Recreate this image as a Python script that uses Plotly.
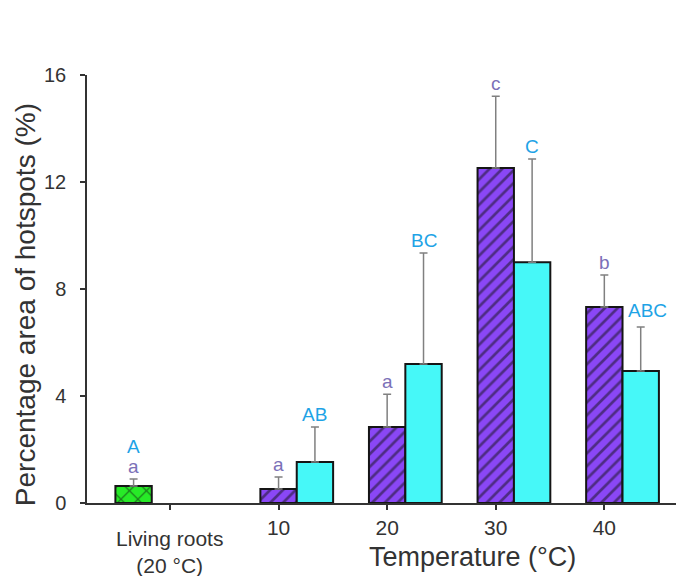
import numpy as np
import plotly.graph_objects as go

# ---------------- data ----------------
categories = ["Living roots<br>(20 °C)", "10", "20", "30", "40"]

living_value = [0.64]
living_err = [0.26]
living_letters_lower = ["a"]
living_letters_upper = ["A"]

excised_values = [0.52, 2.84, 12.52, 7.33]      # purple hatched bars
excised_err = [0.45, 1.23, 2.69, 1.19]
excised_letters = ["a", "a", "c", "b"]

second_values = [1.53, 5.20, 9.00, 4.93]        # cyan bars
second_err = [1.31, 4.15, 3.86, 1.65]
second_letters = ["AB", "BC", "C", "ABC"]

y_ticks = [0, 4, 8, 12, 16]

# ---------------- styles ----------------
W = 0.335
PURPLE = "#8a47f6"
CYAN = "#46f8f8"
GREEN = "#27ea27"
LOW_COL = "#7b70b8"
UP_COL = "#1ea3e6"
TXT = "#333333"
FONT = "Liberation Sans, Arial, sans-serif"

idx = np.arange(len(categories))
x_green = idx[:1] - W
x_purple = idx[1:]
x_cyan = idx[1:] + W

err_style = dict(type="data", symmetric=False, color="#808080", thickness=1.5, width=4)
line_style = dict(color="#151515", width=2)

fig = go.Figure()
fig.add_trace(go.Bar(
    x=x_green, y=living_value, width=W,
    marker=dict(color=GREEN, line=line_style,
                pattern=dict(shape="x", fgcolor="#111111", bgcolor=GREEN, size=12, solidity=0.2)),
    error_y=dict(array=living_err, arrayminus=[0] * len(living_err), **err_style),
    showlegend=False,
))
fig.add_trace(go.Bar(
    x=x_purple, y=excised_values, width=W,
    marker=dict(color=PURPLE, line=line_style,
                pattern=dict(shape="/", fgcolor="#111111", bgcolor=PURPLE, size=9, solidity=0.3)),
    error_y=dict(array=excised_err, arrayminus=[0] * len(excised_err), **err_style),
    showlegend=False,
))
fig.add_trace(go.Bar(
    x=x_cyan, y=second_values, width=W,
    marker=dict(color=CYAN, line=line_style),
    error_y=dict(array=second_err, arrayminus=[0] * len(second_err), **err_style),
    showlegend=False,
))

ann = []
LFS = 19
for xv, v, e, t in zip(x_green, living_value, living_err, living_letters_lower):
    ann.append(dict(x=xv, y=v + e, text=t, showarrow=False, yanchor="bottom",
                    font=dict(size=LFS, color=LOW_COL, family=FONT)))
for xv, v, e, t in zip(x_green, living_value, living_err, living_letters_upper):
    ann.append(dict(x=xv, y=v + e, text=t, showarrow=False, yanchor="bottom", yshift=20,
                    font=dict(size=LFS, color=UP_COL, family=FONT)))
for xv, v, e, t in zip(x_purple, excised_values, excised_err, excised_letters):
    ann.append(dict(x=xv, y=v + e, text=t, showarrow=False, yanchor="bottom",
                    font=dict(size=LFS, color=LOW_COL, family=FONT)))
for xv, v, e, t in zip(x_cyan, second_values, second_err, second_letters):
    ann.append(dict(x=xv, y=v + e, text=t, showarrow=False, yanchor="bottom",
                    xshift=7 if t == "ABC" else 0, yshift=4 if t == "ABC" else 0,
                    font=dict(size=LFS, color=UP_COL, family=FONT)))

# first category label (two lines, sits a little lower than the numeric ticks)
tick_text = [""] + categories[1:]
ann.append(dict(x=idx[0], y=0, xref="x", yref="y", text=categories[0], showarrow=False,
                xanchor="center", yanchor="top", yshift=-22,
                font=dict(size=21, color=TXT, family=FONT)))

# axis titles
ann.append(dict(xref="paper", yref="paper", x=0.655, y=-0.126, text="Temperature (°C)",
                showarrow=False, xanchor="center", yanchor="middle",
                font=dict(size=27, color=TXT, family=FONT)))
ann.append(dict(xref="paper", yref="paper", x=-0.105, y=0.4626, text="Percentage area of hotspots (%)",
                showarrow=False, xanchor="center", yanchor="middle", textangle=-90,
                font=dict(size=28, color=TXT, family=FONT)))

fig.update_layout(
    width=676, height=576,
    margin=dict(l=87, r=0, t=75, b=73),
    plot_bgcolor="white", paper_bgcolor="white",
    barmode="overlay",
    annotations=ann,
    font=dict(family=FONT, color=TXT),
    xaxis=dict(range=[-0.764, 4.66], tickvals=idx, ticktext=tick_text,
               showline=True, linecolor="#333333", linewidth=1.5,
               ticks="outside", ticklen=5, tickwidth=1.5, tickcolor="#333333",
               showgrid=False, zeroline=False,
               tickfont=dict(size=21, color=TXT, family=FONT)),
    yaxis=dict(range=[0, 16], tickvals=y_ticks,
               showline=True, linecolor="#333333", linewidth=1.5,
               ticks="outside", ticklen=5, tickwidth=1.5, tickcolor="#333333",
               showgrid=False, zeroline=False, ticklabelstandoff=10,
               tickfont=dict(size=20, color=TXT, family=FONT)),
)

fig.write_html("out.html")
